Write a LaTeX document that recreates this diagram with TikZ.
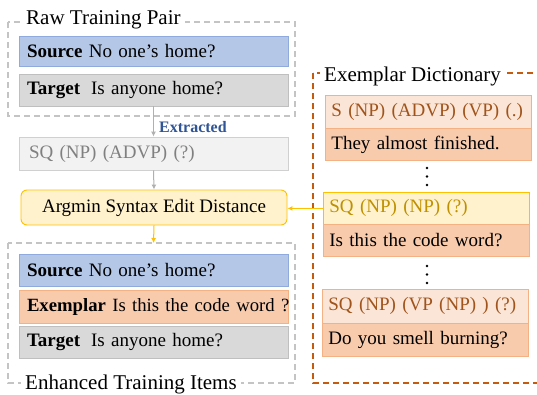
\documentclass[tikz,border=0pt]{standalone}
\usepackage{fontspec}
\setmainfont{Liberation Serif}
\usetikzlibrary{arrows.meta}
\definecolor{blueFill}{HTML}{B4C7E7}
\definecolor{blueLine}{HTML}{8FAADC}
\definecolor{grayFill}{HTML}{D9D9D9}
\definecolor{grayLine}{HTML}{BFBFBF}
\definecolor{lgFill}{HTML}{F2F2F2}
\definecolor{lgLine}{HTML}{D0D0D0}
\definecolor{lgText}{HTML}{808080}
\definecolor{goldFill}{HTML}{FFF2CC}
\definecolor{goldLine}{HTML}{FFC000}
\definecolor{goldText}{HTML}{BF9000}
\definecolor{orFill}{HTML}{F8CBAD}
\definecolor{orLine}{HTML}{F4B183}
\definecolor{orLight}{HTML}{FBE5D6}
\definecolor{orText}{HTML}{A0541C}
\definecolor{orDash}{HTML}{C55A11}
\definecolor{extBlue}{HTML}{2F5597}
\definecolor{frameGray}{HTML}{C4C4C4}
\definecolor{arrGray}{HTML}{B0B0B0}
\begin{document}
\begin{tikzpicture}[x=1pt,y=-1pt,
  fs/.style={font=\fontsize{19}{22}\selectfont},
  ttl/.style={font=\fontsize{21}{24}\selectfont, fill=white, inner xsep=4pt, inner ysep=2pt, anchor=base west},
  leftbox/.style={draw, line width=0.8pt, fs, minimum width=269pt, text width=253pt, inner xsep=8pt, align=left, anchor=center},
  exbox/.style={draw, line width=0.8pt, fs, minimum width=206pt, text width=194pt, inner xsep=6pt, align=left, anchor=north west},
  grayframe/.style={draw=frameGray, line width=1.1pt, dash pattern=on 6pt off 4pt},
  orframe/.style={draw=orDash, line width=1.6pt, dash pattern=on 6pt off 4pt},
  grayarrow/.style={draw=arrGray, line width=1pt, -{Latex[length=5pt,width=5pt]}},
  goldarrow/.style={draw=goldLine, line width=1pt, -{Latex[length=5pt,width=5pt]}},
  dot/.style={fill=black, circle, inner sep=0pt, minimum size=2.8pt}
]
\useasboundingbox (0,0) rectangle (537,394);

% frames
\draw[grayframe] (8,22) rectangle (295,116);
\draw[grayframe] (8,243) rectangle (295,383);
\draw[orframe] (313,73) rectangle (548,383);

% titles
\node[ttl] (t1) at (22,24) {Raw Training Pair};
\node[ttl] (t2) at (21,389) {Enhanced Training Items};
\node[ttl] (t3) at (320,81) {Exemplar Dictionary};

% raw pair
\node[leftbox, fill=blueFill, draw=blueLine, minimum height=30pt] (src1) at (153.5,51) {\textbf{Source} No one’s home?};
\node[leftbox, fill=grayFill, draw=grayLine, minimum height=32pt] (tgt1) at (153.5,90) {\textbf{Target}\hspace{11pt}Is anyone home?};

% extracted
\node[leftbox, fill=lgFill, draw=lgLine, text=lgText, minimum height=33pt] (sq) at (153.5,153.5) {\hspace{2pt}SQ (NP) (ADVP) (?)};
\node[anchor=west, font=\fontsize{16}{18}\selectfont\bfseries, text=extBlue, inner sep=0pt] (extr) at (159,127) {Extracted};

% argmin
\node[draw=goldLine, fill=goldFill, line width=0.9pt, rounded corners=6pt, fs, minimum width=266pt, minimum height=35pt] (argmin) at (154,207.5) {Argmin Syntax Edit Distance};

% enhanced
\node[leftbox, fill=blueFill, draw=blueLine, minimum height=32pt] (src2) at (153.5,270) {\textbf{Source} No one’s home?};
\node[leftbox, fill=orFill, draw=orLine, minimum height=33pt] (exm) at (153.5,306.5) {\mbox{\fontsize{18.7}{22}\selectfont\textbf{Exemplar} Is this the code word ?}};
\node[leftbox, fill=grayFill, draw=grayLine, minimum height=32pt] (tgt2) at (153.5,342) {\textbf{Target}\hspace{11pt}Is anyone home?};

% dictionary entries
\node[exbox, fill=orLight, draw=orLine, text=orText, minimum height=33pt] (ex1h) at (325,95) {S (NP) (ADVP) (VP) (.)};
\node[exbox, fill=orFill, draw=orLine, minimum height=32pt] (ex1b) at (325,128) {They almost finished.};

\node[exbox, fill=goldFill, draw=goldLine, text=goldText, minimum height=32pt] (ex2h) at (323,192) {SQ (NP) (NP) (?)};
\node[exbox, fill=orFill, draw=orLine, minimum height=32pt] (ex2b) at (323,224) {Is this the code word?};

\node[exbox, fill=orLight, draw=orLine, text=orText, minimum height=34pt] (ex3h) at (322,289) {SQ (NP) (VP (NP) ) (?)};
\node[exbox, fill=orFill, draw=orLine, minimum height=33pt] (ex3b) at (322,323) {Do you smell burning?};

% dots
\node[dot] (d1) at (427,168) {};
\node[dot] (d2) at (427,176.5) {};
\node[dot] (d3) at (427,185) {};
\node[dot] (d4) at (427,266) {};
\node[dot] (d5) at (427,274.5) {};
\node[dot] (d6) at (427,283) {};

% arrows
\coordinate (enhtop) at (153.5,243);
\draw[grayarrow] (tgt1.south) -- (sq.north);
\draw[grayarrow] (sq.south) -- (argmin.north);
\draw[goldarrow] (argmin.south) -- (enhtop);
\draw[goldarrow] (ex2h.west) -- (ex2h.west -| argmin.east);
\end{tikzpicture}
\end{document}
